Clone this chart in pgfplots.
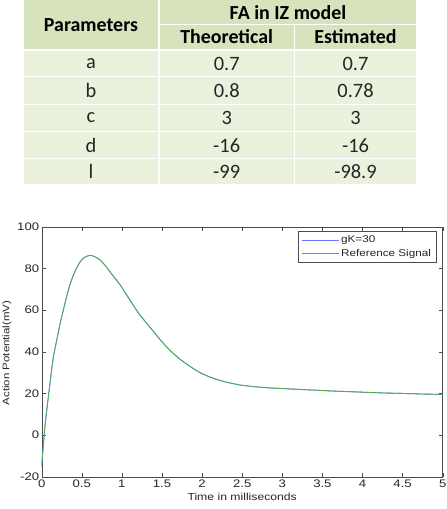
\documentclass[border=0pt]{standalone}
\usepackage{fontspec}
\usepackage{pgfplots}
\pgfplotsset{compat=1.18}
\newfontfamily\tabfont{Carlito}
\newfontfamily\plotfont[FakeStretch=1.2]{Liberation Sans}
\definecolor{hdr}{HTML}{D6E3BC}
\definecolor{bodyc}{HTML}{EAF1DD}
\definecolor{curve}{HTML}{4FAF4A}
\definecolor{txt}{HTML}{262626}
\pgfplotstableread{
t v
0 -15
0.02 -5
0.04 4
0.06 11
0.083 18.4
0.11 27
0.145 37.6
0.19 46
0.23 53.6
0.27 60
0.31 66.4
0.35 72
0.395 76.8
0.44 80.5
0.48 83.2
0.53 85.2
0.58 86.1
0.62 86.2
0.67 85.5
0.73 84
0.79 81.5
0.85 78.4
0.92 75
0.98 72
1.06 67.2
1.14 62.4
1.22 57.8
1.31 53.6
1.4 49.4
1.48 45.6
1.56 42.2
1.64 39.2
1.72 36.5
1.81 34
1.89 31.9
1.97 30
2.08 28.1
2.18 26.7
2.3 25.4
2.47 24
2.65 23.2
2.81 22.7
3.0 22.3
3.22 21.9
3.43 21.5
3.64 21.1
3.85 20.8
4.05 20.5
4.25 20.2
4.47 20
4.73 19.7
5 19.5
}\signal
\begin{document}
\begin{tikzpicture}
\useasboundingbox (0,0) rectangle (447bp,-509bp);
% table
\fill[hdr] (24bp,0bp) rectangle (158bp,-49.3bp);
\fill[hdr] (160bp,0bp) rectangle (416bp,-24bp);
\fill[hdr] (160bp,-25.3bp) rectangle (293.5bp,-49.3bp);
\fill[hdr] (295bp,-25.3bp) rectangle (416bp,-49.3bp);
\foreach \ya/\yb in {50.7/76,77.3/104,105.3/130.7,132/158,159.3/184}{
  \fill[bodyc] (24bp,-\ya bp) rectangle (158bp,-\yb bp);
  \fill[bodyc] (160bp,-\ya bp) rectangle (293.5bp,-\yb bp);
  \fill[bodyc] (295bp,-\ya bp) rectangle (416bp,-\yb bp);
}
\begin{scope}[every node/.style={font=\tabfont\fontsize{20.5}{24}\selectfont,inner sep=0pt}]
\node[font=\tabfont\bfseries\fontsize{20}{24}\selectfont] at (91bp,-25bp) {Parameters};
\node[font=\tabfont\bfseries\fontsize{20}{24}\selectfont] at (288bp,-12.5bp) {FA in IZ model};
\node[font=\tabfont\bfseries\fontsize{20}{24}\selectfont] at (226.7bp,-37bp) {Theoretical};
\node[font=\tabfont\bfseries\fontsize{20}{24}\selectfont] at (355.5bp,-37bp) {Estimated};
\foreach \y/\p/\th/\es in {63.5/a/0.7/0.7,90.7/b/0.8/0.78,118/c/3/3,145.3/d/-16/-16,171.7/l/-99/-98.9}{
  \node[text=txt] at (91bp,-\y bp) {\p};
  \node[text=txt] at (226.7bp,-\y bp) {\th};
  \node[text=txt] at (355.5bp,-\y bp) {\es};
}
\end{scope}
% plot
\begin{axis}[
  at={(41.7bp,-476.7bp)}, anchor=south west,
  scale only axis, width=401bp, height=250bp,
  xmin=0, xmax=5, ymin=-20, ymax=100,
  xtick={0,0.5,...,5}, ytick={-20,0,...,100},
  xtick pos=both, ytick pos=both, tick align=inside,
  major tick length=4bp,
  axis line style={black!70},
  tick style={black!70},
  ticklabel style={font=\plotfont\fontsize{11}{13}\selectfont, text=black!85},
  yticklabel style={xshift=1bp},
  /pgf/number format/assume math mode=true,
  xlabel={Time in milliseconds},
  ylabel={Action Potential(mV)},
  xlabel style={font=\plotfont\fontsize{10.2}{12}\selectfont, at={(axis description cs:0.5,-0.0812)}, anchor=center, text=black!85},
  ylabel style={font=\plotfont\fontsize{9.6}{12}\selectfont, at={(axis description cs:-0.0865,0.495)}, anchor=center, text=black!85},
  legend style={at={(1,1)}, anchor=north east, xshift=-6.5bp, yshift=-4.5bp,
    draw=black!70, font=\plotfont\fontsize{9.8}{11}\selectfont, text=black!85,
    inner xsep=3bp, inner ysep=2.5bp, row sep=1.2bp, cells={anchor=west}},
  legend image code/.code={\draw[#1] (0bp,0bp) -- (37bp,0bp);},
]
\addplot[color=blue!55, line width=0.9pt] table[x=t,y=v] {\signal};
\addlegendentry{gK=30}
\addplot[color=curve, line width=0.8pt] table[x=t,y=v] {\signal};
\addlegendentry{Reference Signal}
\end{axis}
\end{tikzpicture}
\end{document}
